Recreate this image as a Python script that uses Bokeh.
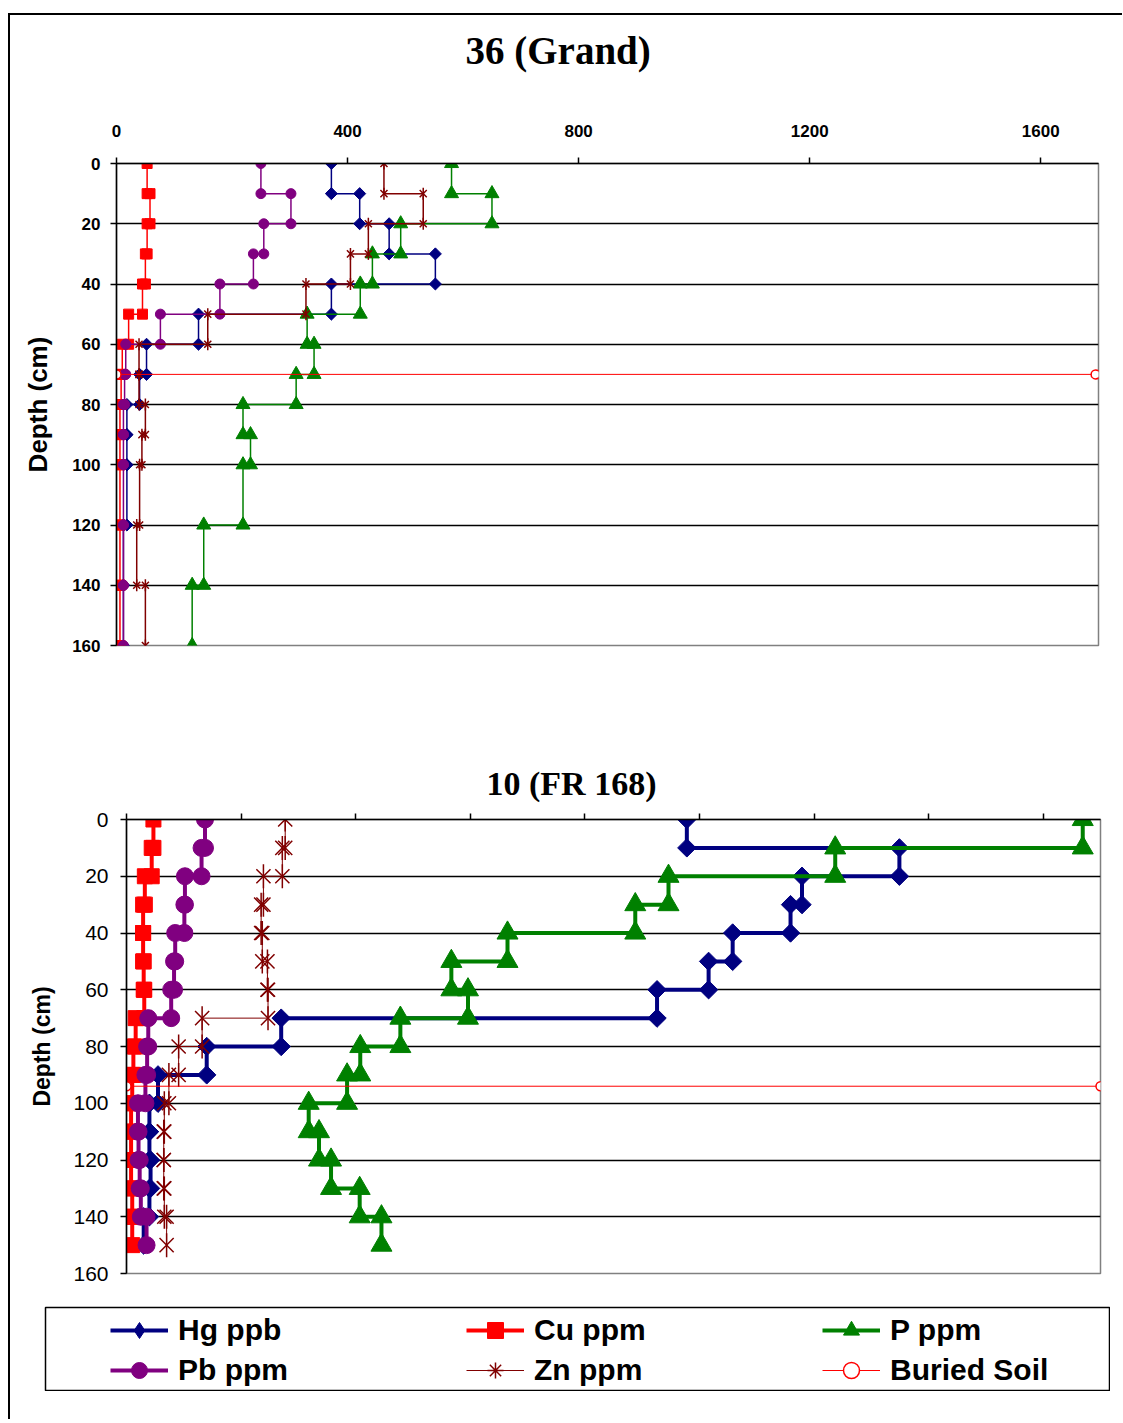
import math
from bokeh.plotting import figure
from bokeh.layouts import column
from bokeh.models import Range1d, FixedTicker, Legend, LegendItem, Title
from bokeh.embed import file_html
from bokeh.resources import INLINE

# ---------------- data ----------------
# Chart 1: 36 (Grand)
top_depth_top = [0, 10, 20, 30, 40, 50, 60, 70, 80, 90, 100, 120, 140]
top_depth_bot = [10, 20, 30, 40, 50, 60, 70, 80, 90, 100, 120, 140, 160]
top_hg = [372, 421, 472, 552, 372, 142, 52, 40, 18, 18, 18, 12, 12]
top_cu = [53, 58, 53, 50, 45, 21, 10, 8, 6, 6, 6, 6, 6]
top_p = [580, 650, 492, 443, 422, 330, 342, 311, 219, 232, 219, 151, 131]
top_pb = [250, 302, 255, 237, 179, 76, 16, 14, 12, 12, 12, 12, 12]
top_zn = [463, 531, 436, 405, 328, 158, 39, 39, 50, 44, 40, 35, 50]
top_buried_x = [0, 1695]
top_buried_depth = [70, 70]

# Chart 2: 10 (FR 168)
bot_depth_top = [0, 10, 20, 30, 40, 50, 60, 70, 80, 90, 100, 110, 120, 130, 140]
bot_depth_bot = [10, 20, 30, 40, 50, 60, 70, 80, 90, 100, 110, 120, 130, 140, 150]
bot_hg = [978, 1349, 1179, 1159, 1058, 1016, 926, 270, 140, 55, 40, 40, 42, 40, 30]
bot_cu = [47, 44, 32, 29, 29, 30, 31, 16, 12, 10, 8, 8, 8, 10, 10]
bot_p = [1669, 1237, 946, 888, 665, 567, 596, 478, 408, 385, 318, 336, 357, 407, 445]
bot_pb = [137, 131, 102, 101, 85, 83, 78, 38, 36, 33, 20, 21, 23, 25, 35]
bot_zn = [277, 272, 239, 235, 237, 246, 247, 132, 91, 74, 66, 65, 65, 66, 70]
bot_buried_x = [0, 1700]
bot_buried_depth = [94, 94]

titles = ["36 (Grand)", "10 (FR 168)"]
series_names = ["Hg ppb", "Cu ppm", "P ppm", "Pb ppm", "Zn ppm", "Buried Soil"]
top_x_ticks = [0, 400, 800, 1200, 1600]
bot_x_ticks = [0, 200, 400, 600, 800, 1000, 1200, 1400, 1600]
y_ticks = [0, 20, 40, 60, 80, 100, 120, 140, 160]

# ---------------- styles ----------------
NAVY = "#000080"
RED = "#FF0000"
GREEN = "#008000"
PURPLE = "#800080"
DKRED = "#800000"
SANS = "Liberation Sans"
SERIF = "Liberation Serif"


def step_xy(vals, tops, bots):
    xs, ys = [], []
    for v, t, b in zip(vals, tops, bots):
        xs += [v, v]
        ys += [t, b]
    return xs, ys


def draw_series(p, vals, tops, bots, color, marker, lw, msize, angle=0.0):
    xs, ys = step_xy(vals, tops, bots)
    r1 = p.line(xs, ys, line_color=color, line_width=lw)
    r2 = p.scatter(xs, ys, marker=marker, size=msize, angle=angle,
                   fill_color=color, line_color=color)
    return [r1, r2]


def draw_zn(p, vals, tops, bots, lw, msize, mlw):
    xs, ys = step_xy(vals, tops, bots)
    r1 = p.line(xs, ys, line_color=DKRED, line_width=lw)
    r2 = p.scatter(xs, ys, marker="x", size=msize, line_color=DKRED, line_width=mlw)
    r3 = p.scatter(xs, ys, marker="dash", size=msize * 1.2, angle=math.pi / 2,
                   line_color=DKRED, line_width=mlw)
    return [r1, r2, r3]


def draw_buried(p, xs, ys, msize):
    r1 = p.line(xs, ys, line_color=RED, line_width=1)
    r2 = p.scatter(xs, ys, marker="circle", size=msize,
                   fill_color="white", line_color=RED, line_width=1.5)
    return [r1, r2]


def base_fig(width, height, mb_left, mb_top, mb_bottom, xticks, title, t_size, t_offset, t_standoff):
    p = figure(width=width, height=height, output_backend="svg",
               toolbar_location=None, x_axis_location="above",
               x_range=Range1d(0, 1700), y_range=Range1d(160, 0),
               min_border_left=mb_left, min_border_right=12,
               min_border_top=mb_top, min_border_bottom=mb_bottom)
    p.frame_align = False
    p.title = Title(text=title, align="left", offset=t_offset, standoff=t_standoff,
                    text_font=SERIF, text_font_style="bold",
                    text_font_size=t_size, text_color="black")
    p.background_fill_color = "white"
    p.border_fill_alpha = 0
    p.outline_line_color = "#808080"
    p.outline_line_width = 1.5
    p.xgrid.visible = False
    p.ygrid.grid_line_color = "black"
    p.ygrid.grid_line_width = 1.5
    p.ygrid.ticker = FixedTicker(ticks=y_ticks)
    p.xaxis.ticker = FixedTicker(ticks=xticks)
    p.yaxis.ticker = FixedTicker(ticks=y_ticks)
    for ax in (p.xaxis[0], p.yaxis[0]):
        ax.axis_line_color = "black"
        ax.axis_line_width = 1.5
        ax.major_tick_line_color = "black"
        ax.major_tick_line_width = 1.5
        ax.major_tick_out = 6
        ax.major_tick_in = 0
        ax.minor_tick_line_color = None
    p.yaxis.axis_label = "Depth (cm)"
    p.yaxis.axis_label_text_font = SANS
    p.yaxis.axis_label_text_font_style = "bold"
    p.yaxis.axis_label_text_color = "black"
    return p


# ---------------- chart 1 ----------------
# tall title band; the figure is pulled up so that its frame starts at the same place
p1 = base_fig(1100, 724, 106, 187, 55, top_x_ticks, titles[0], "39px", 349, 100)
p1.margin = (-39, 12, 0, 0)
p1.xaxis.major_label_text_font = SANS
p1.xaxis.major_label_text_font_style = "bold"
p1.xaxis.major_label_text_font_size = "17px"
p1.xaxis.major_label_text_color = "black"
p1.xaxis.major_label_standoff = 21
p1.yaxis.major_label_text_font = SANS
p1.yaxis.major_label_text_font_style = "bold"
p1.yaxis.major_label_text_font_size = "17px"
p1.yaxis.major_label_text_color = "black"
p1.yaxis.major_label_standoff = 10
p1.yaxis.axis_label_text_font_size = "26px"
p1.yaxis.axis_label_standoff = 16

draw_series(p1, top_hg, top_depth_top, top_depth_bot, NAVY, "square", 1.5, 8.5, math.pi / 4)
draw_series(p1, top_cu, top_depth_top, top_depth_bot, RED, "square", 1.5, 10)
draw_series(p1, top_p, top_depth_top, top_depth_bot, GREEN, "triangle", 1.5, 14)
draw_series(p1, top_pb, top_depth_top, top_depth_bot, PURPLE, "circle", 1.5, 10)
draw_zn(p1, top_zn, top_depth_top, top_depth_bot, 1.5, 10, 1.5)
draw_buried(p1, top_buried_x, top_buried_depth, 9)

# ---------------- chart 2 ----------------
p2 = base_fig(1102, 595, 116, 119, 22, bot_x_ticks, titles[1], "34px", 360, 23)
p2.xaxis.major_label_overrides = {t: "" for t in bot_x_ticks}
p2.xaxis.major_label_standoff = 0
p2.yaxis.major_label_text_font = SANS
p2.yaxis.major_label_text_font_size = "21px"
p2.yaxis.major_label_text_color = "black"
p2.yaxis.major_label_standoff = 12
p2.yaxis.axis_label_text_font_size = "23px"
p2.yaxis.axis_label_standoff = 15

draw_series(p2, bot_hg, bot_depth_top, bot_depth_bot, NAVY, "square", 4, 13, math.pi / 4)
draw_series(p2, bot_cu, bot_depth_top, bot_depth_bot, RED, "square", 4, 15)
draw_series(p2, bot_p, bot_depth_top, bot_depth_bot, GREEN, "triangle", 4, 21)
draw_series(p2, bot_pb, bot_depth_top, bot_depth_bot, PURPLE, "circle", 4, 17)
draw_zn(p2, bot_zn, bot_depth_top, bot_depth_bot, 1, 20, 1.5)
draw_buried(p2, bot_buried_x, bot_buried_depth, 9)

# ---------------- legend box ----------------
# The legend figure's ranges keep its own copies of the series out of view;
# they only provide the legend glyph styles.
p3 = figure(width=1066, height=85, output_backend="svg", toolbar_location=None,
            x_range=Range1d(-2, -1), y_range=Range1d(-2, -1),
            min_border_left=1, min_border_right=1, min_border_top=1, min_border_bottom=1)
p3.frame_align = False
p3.axis.visible = False
p3.grid.visible = False
p3.outline_line_color = "black"
p3.outline_line_width = 1.5
p3.border_fill_alpha = 0
p3.background_fill_alpha = 0
p3.margin = (11, 0, 28, 34)

leg_hg = draw_series(p3, bot_hg, bot_depth_top, bot_depth_bot, NAVY, "diamond", 4, 13)
leg_cu = draw_series(p3, bot_cu, bot_depth_top, bot_depth_bot, RED, "square", 4, 15)
leg_p = draw_series(p3, bot_p, bot_depth_top, bot_depth_bot, GREEN, "triangle", 4, 21)
leg_pb = draw_series(p3, bot_pb, bot_depth_top, bot_depth_bot, PURPLE, "circle", 4, 17)
zn_xs, zn_ys = step_xy(bot_zn, bot_depth_top, bot_depth_bot)
leg_zn = [p3.line(zn_xs, zn_ys, line_color=DKRED, line_width=1),
          p3.scatter(zn_xs, zn_ys, marker="asterisk", size=20, line_color=DKRED, line_width=1.5)]
leg_bs = draw_buried(p3, bot_buried_x, bot_buried_depth, 9)

items = [LegendItem(label=n, renderers=r) for n, r in
         zip(series_names, [leg_hg, leg_cu, leg_p, leg_pb, leg_zn, leg_bs])]
legend = Legend(items=items, orientation="horizontal", ncols=3,
                location=(65, 0), padding=0, spacing=0, margin=0,
                glyph_width=58, glyph_height=40, label_height=40,
                label_width=288, label_standoff=10,
                label_text_font=SANS, label_text_font_style="bold",
                label_text_font_size="30px", label_text_color="black",
                border_line_color=None, background_fill_alpha=0)
p3.add_layout(legend)

layout = column(p1, p2, p3, margin=(13, 0, 0, 8),
                styles={"border-top": "2px solid black", "border-left": "2px solid black"})

with open("out.html", "w") as f:
    f.write(file_html(layout, INLINE))
